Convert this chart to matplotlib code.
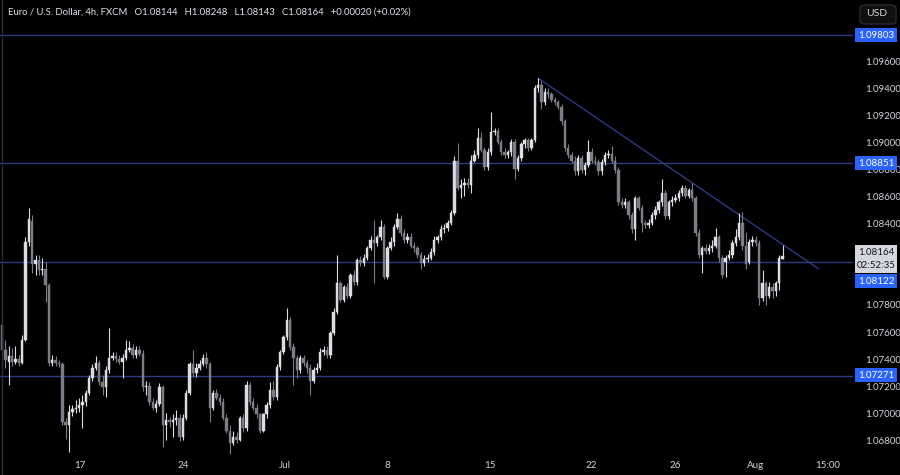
import matplotlib.pyplot as plt
from matplotlib.lines import Line2D
from matplotlib.patches import FancyBboxPatch, Rectangle

# EUR/USD 4h candles
opens = [
    1.0765, 1.0747, 1.0738, 1.0742, 1.0738, 1.0740, 1.0737, 1.0754, 1.0827, 1.0842,
    1.0810, 1.0813, 1.0806, 1.0807, 1.0795, 1.0737, 1.0739, 1.0737, 1.0736, 1.0693,
    1.0691, 1.0701, 1.0703, 1.0704, 1.0706, 1.0708, 1.0715, 1.0726, 1.0733, 1.0737,
    1.0723, 1.0719, 1.0732, 1.0741, 1.0742, 1.0740, 1.0738, 1.0741, 1.0747, 1.0748,
    1.0743, 1.0747, 1.0744, 1.0719, 1.0720, 1.0708, 1.0704, 1.0707, 1.0719, 1.0691,
    1.0695, 1.0693, 1.0695, 1.0696, 1.0682, 1.0696, 1.0715, 1.0736, 1.0730, 1.0733,
    1.0736, 1.0741, 1.0736, 1.0704, 1.0715, 1.0711, 1.0708, 1.0696, 1.0687, 1.0678,
    1.0682, 1.0680, 1.0696, 1.0689, 1.0721, 1.0708, 1.0704, 1.0699, 1.0687, 1.0699,
    1.0706, 1.0717, 1.0712, 1.0734, 1.0745, 1.0756, 1.0769, 1.0749, 1.0741, 1.0732,
    1.0741, 1.0737, 1.0733, 1.0724, 1.0732, 1.0733, 1.0745, 1.0747, 1.0743, 1.0759,
    1.0775, 1.0796, 1.0784, 1.0793, 1.0787, 1.0802, 1.0797, 1.0813, 1.0811, 1.0815,
    1.0822, 1.0828, 1.0826, 1.0830, 1.0838, 1.0801, 1.0822, 1.0827, 1.0838, 1.0844,
    1.0833, 1.0828, 1.0830, 1.0824, 1.0822, 1.0817, 1.0811, 1.0814, 1.0815, 1.0819,
    1.0828, 1.0830, 1.0836, 1.0837, 1.0841, 1.0848, 1.0887, 1.0867, 1.0869, 1.0870,
    1.0869, 1.0887, 1.0891, 1.0904, 1.0895, 1.0882, 1.0893, 1.0908, 1.0909, 1.0901,
    1.0893, 1.0891, 1.0893, 1.0901, 1.0881, 1.0889, 1.0899, 1.0902, 1.0896, 1.0902,
    1.0941, 1.0943, 1.0930, 1.0938, 1.0936, 1.0932, 1.0930, 1.0927, 1.0916, 1.0896,
    1.0891, 1.0887, 1.0879, 1.0889, 1.0880, 1.0884, 1.0893, 1.0887, 1.0886, 1.0879,
    1.0886, 1.0891, 1.0892, 1.0887, 1.0880, 1.0856, 1.0854, 1.0856, 1.0847, 1.0836,
    1.0859, 1.0852, 1.0841, 1.0839, 1.0841, 1.0847, 1.0850, 1.0856, 1.0863, 1.0846,
    1.0856, 1.0858, 1.0859, 1.0863, 1.0867, 1.0861, 1.0865, 1.0859, 1.0833, 1.0817,
    1.0822, 1.0820, 1.0822, 1.0824, 1.0830, 1.0815, 1.0812, 1.0815, 1.0817, 1.0826,
    1.0830, 1.0841, 1.0824, 1.0812, 1.0827, 1.0828, 1.0826, 1.0785, 1.0796, 1.0787,
    1.0793, 1.0790, 1.0796, 1.08144,
]
closes = [
    1.0747, 1.0739, 1.0742, 1.0738, 1.0740, 1.0737, 1.0754, 1.0827, 1.0844, 1.0810,
    1.0813, 1.0806, 1.0807, 1.0795, 1.0737, 1.0739, 1.0737, 1.0736, 1.0693, 1.0691,
    1.0701, 1.0703, 1.0704, 1.0706, 1.0708, 1.0715, 1.0726, 1.0733, 1.0737, 1.0723,
    1.0719, 1.0732, 1.0741, 1.0742, 1.0740, 1.0738, 1.0741, 1.0747, 1.0748, 1.0743,
    1.0747, 1.0744, 1.0719, 1.0720, 1.0708, 1.0704, 1.0707, 1.0719, 1.0691, 1.0695,
    1.0693, 1.0695, 1.0696, 1.0682, 1.0696, 1.0715, 1.0736, 1.0730, 1.0733, 1.0736,
    1.0741, 1.0736, 1.0704, 1.0715, 1.0711, 1.0708, 1.0696, 1.0687, 1.0678, 1.0682,
    1.0680, 1.0696, 1.0689, 1.0721, 1.0708, 1.0704, 1.0699, 1.0687, 1.0699, 1.0706,
    1.0717, 1.0712, 1.0734, 1.0745, 1.0756, 1.0769, 1.0749, 1.0741, 1.0732, 1.0741,
    1.0737, 1.0733, 1.0724, 1.0732, 1.0733, 1.0745, 1.0747, 1.0743, 1.0759, 1.0775,
    1.0796, 1.0784, 1.0793, 1.0787, 1.0802, 1.0797, 1.0813, 1.0811, 1.0815, 1.0822,
    1.0828, 1.0826, 1.0830, 1.0838, 1.0801, 1.0822, 1.0827, 1.0838, 1.0844, 1.0833,
    1.0828, 1.0830, 1.0824, 1.0822, 1.0817, 1.0811, 1.0814, 1.0815, 1.0819, 1.0828,
    1.0830, 1.0836, 1.0837, 1.0841, 1.0848, 1.0887, 1.0867, 1.0869, 1.0870, 1.0869,
    1.0887, 1.0891, 1.0904, 1.0895, 1.0882, 1.0893, 1.0908, 1.0909, 1.0901, 1.0893,
    1.0891, 1.0893, 1.0901, 1.0881, 1.0889, 1.0899, 1.0902, 1.0896, 1.0902, 1.0941,
    1.0943, 1.0930, 1.0938, 1.0936, 1.0932, 1.0930, 1.0927, 1.0916, 1.0896, 1.0891,
    1.0887, 1.0879, 1.0889, 1.0880, 1.0884, 1.0893, 1.0887, 1.0886, 1.0879, 1.0886,
    1.0891, 1.0892, 1.0887, 1.0880, 1.0856, 1.0854, 1.0856, 1.0847, 1.0836, 1.0859,
    1.0852, 1.0841, 1.0839, 1.0841, 1.0847, 1.0850, 1.0856, 1.0863, 1.0846, 1.0856,
    1.0858, 1.0859, 1.0863, 1.0867, 1.0861, 1.0865, 1.0859, 1.0833, 1.0817, 1.0822,
    1.0820, 1.0822, 1.0824, 1.0830, 1.0815, 1.0802, 1.0815, 1.0817, 1.0826, 1.0830,
    1.0841, 1.0824, 1.0810, 1.0827, 1.0828, 1.0826, 1.0785, 1.0796, 1.0787, 1.0793,
    1.0790, 1.0796, 1.0815, 1.08164,
]
highs = [
    1.0770, 1.0754, 1.0750, 1.0748, 1.0750, 1.0743, 1.0758, 1.0830, 1.0852, 1.0847,
    1.0817, 1.0817, 1.0815, 1.0812, 1.0796, 1.0743, 1.0742, 1.0739, 1.0738, 1.0696,
    1.0706, 1.0706, 1.0710, 1.0711, 1.0713, 1.0717, 1.0728, 1.0736, 1.0742, 1.0739,
    1.0728, 1.0735, 1.0763, 1.0745, 1.0745, 1.0743, 1.0744, 1.0754, 1.0753, 1.0751,
    1.0750, 1.0750, 1.0747, 1.0724, 1.0723, 1.0711, 1.0710, 1.0722, 1.0721, 1.0700,
    1.0697, 1.0699, 1.0702, 1.0699, 1.0699, 1.0717, 1.0738, 1.0747, 1.0737, 1.0739,
    1.0744, 1.0745, 1.0738, 1.0717, 1.0718, 1.0714, 1.0711, 1.0699, 1.0691, 1.0687,
    1.0686, 1.0698, 1.0699, 1.0724, 1.0723, 1.0711, 1.0707, 1.0700, 1.0700, 1.0708,
    1.0723, 1.0724, 1.0736, 1.0747, 1.0758, 1.0778, 1.0771, 1.0752, 1.0743, 1.0743,
    1.0743, 1.0739, 1.0736, 1.0734, 1.0737, 1.0748, 1.0750, 1.0750, 1.0761, 1.0778,
    1.0817, 1.0798, 1.0795, 1.0796, 1.0804, 1.0806, 1.0815, 1.0816, 1.0818, 1.0824,
    1.0831, 1.0843, 1.0832, 1.0843, 1.0840, 1.0824, 1.0830, 1.0840, 1.0848, 1.0847,
    1.0836, 1.0833, 1.0833, 1.0827, 1.0824, 1.0819, 1.0817, 1.0818, 1.0822, 1.0831,
    1.0832, 1.0839, 1.0840, 1.0843, 1.0850, 1.0890, 1.0900, 1.0873, 1.0874, 1.0874,
    1.0891, 1.0895, 1.0911, 1.0908, 1.0897, 1.0896, 1.0923, 1.0911, 1.0911, 1.0903,
    1.0896, 1.0895, 1.0903, 1.0903, 1.0891, 1.0901, 1.0904, 1.0904, 1.0904, 1.0943,
    1.0948, 1.0946, 1.0941, 1.0941, 1.0938, 1.0934, 1.0932, 1.0929, 1.0918, 1.0899,
    1.0893, 1.0890, 1.0891, 1.0891, 1.0886, 1.0902, 1.0896, 1.0890, 1.0888, 1.0888,
    1.0893, 1.0895, 1.0898, 1.0890, 1.0882, 1.0859, 1.0859, 1.0858, 1.0849, 1.0861,
    1.0861, 1.0854, 1.0843, 1.0844, 1.0849, 1.0853, 1.0858, 1.0873, 1.0865, 1.0858,
    1.0861, 1.0862, 1.0865, 1.0869, 1.0869, 1.0867, 1.0870, 1.0861, 1.0836, 1.0824,
    1.0825, 1.0825, 1.0828, 1.0837, 1.0832, 1.0817, 1.0817, 1.0821, 1.0828, 1.0836,
    1.0848, 1.0849, 1.0834, 1.0829, 1.0831, 1.0831, 1.0828, 1.0806, 1.0798, 1.0797,
    1.0796, 1.0798, 1.0817, 1.08248,
]
lows = [
    1.0743, 1.0733, 1.0721, 1.0735, 1.0736, 1.0735, 1.0736, 1.0753, 1.0824, 1.0804,
    1.0802, 1.0802, 1.0802, 1.0782, 1.0735, 1.0735, 1.0735, 1.0734, 1.0691, 1.0681,
    1.0671, 1.0698, 1.0700, 1.0701, 1.0689, 1.0705, 1.0713, 1.0724, 1.0732, 1.0721,
    1.0713, 1.0712, 1.0730, 1.0739, 1.0738, 1.0736, 1.0726, 1.0739, 1.0745, 1.0741,
    1.0741, 1.0742, 1.0716, 1.0713, 1.0706, 1.0702, 1.0701, 1.0705, 1.0675, 1.0680,
    1.0690, 1.0682, 1.0691, 1.0679, 1.0680, 1.0695, 1.0713, 1.0727, 1.0727, 1.0732,
    1.0735, 1.0733, 1.0693, 1.0702, 1.0710, 1.0706, 1.0695, 1.0685, 1.0670, 1.0676,
    1.0678, 1.0679, 1.0686, 1.0687, 1.0706, 1.0702, 1.0696, 1.0685, 1.0686, 1.0696,
    1.0704, 1.0710, 1.0710, 1.0732, 1.0744, 1.0754, 1.0747, 1.0721, 1.0726, 1.0730,
    1.0735, 1.0730, 1.0713, 1.0722, 1.0730, 1.0732, 1.0743, 1.0741, 1.0741, 1.0758,
    1.0773, 1.0782, 1.0782, 1.0785, 1.0785, 1.0795, 1.0795, 1.0809, 1.0809, 1.0813,
    1.0821, 1.0796, 1.0824, 1.0828, 1.0799, 1.0799, 1.0821, 1.0824, 1.0836, 1.0831,
    1.0826, 1.0826, 1.0822, 1.0819, 1.0815, 1.0807, 1.0809, 1.0812, 1.0813, 1.0817,
    1.0826, 1.0828, 1.0833, 1.0835, 1.0839, 1.0847, 1.0865, 1.0859, 1.0861, 1.0867,
    1.0863, 1.0886, 1.0889, 1.0893, 1.0880, 1.0880, 1.0891, 1.0906, 1.0899, 1.0891,
    1.0889, 1.0889, 1.0890, 1.0873, 1.0879, 1.0887, 1.0896, 1.0894, 1.0895, 1.0901,
    1.0938, 1.0925, 1.0928, 1.0933, 1.0930, 1.0928, 1.0925, 1.0913, 1.0894, 1.0889,
    1.0885, 1.0876, 1.0876, 1.0878, 1.0876, 1.0882, 1.0885, 1.0884, 1.0876, 1.0876,
    1.0884, 1.0889, 1.0885, 1.0878, 1.0854, 1.0852, 1.0852, 1.0844, 1.0833, 1.0828,
    1.0850, 1.0834, 1.0837, 1.0837, 1.0839, 1.0844, 1.0848, 1.0853, 1.0844, 1.0844,
    1.0853, 1.0856, 1.0857, 1.0861, 1.0859, 1.0859, 1.0857, 1.0831, 1.0815, 1.0804,
    1.0818, 1.0818, 1.0819, 1.0822, 1.0812, 1.0800, 1.0801, 1.0813, 1.0815, 1.0824,
    1.0828, 1.0821, 1.0807, 1.0810, 1.0824, 1.0824, 1.0780, 1.0783, 1.0780, 1.0785,
    1.0785, 1.0787, 1.0791, 1.08143,
]

level_prices = [1.09803, 1.08851, 1.08122, 1.07271]
level_labels = ["1.09803", "1.08851", "1.08122", "1.07271"]
# ticks that stay readable (1.098, 1.082 and 1.080 sit under the label boxes)
price_ticks = [1.068, 1.070, 1.072, 1.074, 1.076, 1.078,
               1.084, 1.086, 1.088, 1.090, 1.092, 1.094, 1.096]
date_tick_pos = [23.3, 54, 84.5, 115, 145.7, 176, 201, 224.8, 246.3]
date_tick_labels = ["17", "24", "Jul", "8", "15", "22", "26", "Aug", "15:00"]
trend_x = [160, 243.6]
trend_y = [1.0948, 1.0807]
last_price = "1.08164"
countdown = "02:52:35"
header = ("Euro / U.S. Dollar, 4h, FXCM   O1.08144   H1.08248   L1.08143   "
          "C1.08164   +0.00020 (+0.02%)")

BG = "#000000"
UP = "#dcdde2"
DOWN = "#7c7d86"
LEVEL = "#2e3a82"
TEXT = "#d1d4dc"
BLUE = "#2962ff"

plt.rcParams["font.family"] = ["Lato", "DejaVu Sans"]

W, H = 900, 475
fig = plt.figure(figsize=(9, 4.75), dpi=100, facecolor=BG)
ax = fig.add_axes([0, 20 / H, 853 / W, 455 / H])
ax.set_facecolor(BG)

# candles
for i, (o, h, l, c) in enumerate(zip(opens, highs, lows, closes)):
    col = UP if c >= o else DOWN
    ax.vlines(i, l, h, color=col, linewidth=0.8, zorder=2)
    body = max(abs(c - o), 0.00004)
    ax.bar(i, body, bottom=min(o, c), width=0.72, color=col,
           edgecolor=col, linewidth=0.3, zorder=3)

# horizontal levels and trendline
for p in level_prices:
    ax.axhline(p, color=LEVEL, linewidth=1.0, zorder=1)
ax.plot(trend_x, trend_y, color=LEVEL, linewidth=1.0, zorder=1)

ax.set_xlim(-0.6, 254.0)
ax.set_ylim(1.06689, 1.10059)

ax.yaxis.tick_right()
ax.set_yticks(price_ticks)
ax.set_yticklabels([f"{t:.5f}" for t in price_ticks])
ax.set_xticks(date_tick_pos)
ax.set_xticklabels(date_tick_labels)
ax.tick_params(axis="both", length=0, colors=TEXT, labelsize=7)
ax.tick_params(axis="y", pad=9)
ax.tick_params(axis="x", pad=4)
for spine in ax.spines.values():
    spine.set_visible(False)


def fy(ypix):
    return 1 - ypix / H


def price_box(ypix, label, face, color, h=14):
    fig.patches.append(Rectangle((855 / W, fy(ypix + h / 2)), 42 / W, h / H,
                                 transform=fig.transFigure, facecolor=face,
                                 edgecolor="none", zorder=5))
    fig.text(876 / W, fy(ypix), label, color=color, fontsize=7,
             ha="center", va="center", zorder=6)


# axis label boxes
level_box_y = [35, 163, 281, 375]
for yp, lab in zip(level_box_y, level_labels):
    price_box(yp, lab, BLUE, "white")

fig.patches.append(Rectangle((855 / W, fy(273)), 42 / W, 28 / H,
                             transform=fig.transFigure, facecolor="#d6d7dc",
                             edgecolor="none", zorder=5))
fig.text(876 / W, fy(252), last_price, color="#131722", fontsize=7,
         ha="center", va="center", zorder=6)
fig.text(876 / W, fy(266), countdown, color="#131722", fontsize=7,
         ha="center", va="center", zorder=6)

# currency button
fig.patches.append(FancyBboxPatch((860 / W, fy(24)), 36 / W, 19 / H,
                                  boxstyle="round,pad=0,rounding_size=0.006",
                                  transform=fig.transFigure, facecolor="#0f0f0f",
                                  edgecolor="#2f323c", linewidth=0.8, zorder=5))
fig.text(877 / W, fy(14), "USD", color=TEXT, fontsize=7.5,
         ha="center", va="center", zorder=6)

# header text
fig.text(8 / W, fy(12), header, color="#e0e3eb", fontsize=6.8,
         ha="left", va="center")

# left frame line
fig.lines.append(Line2D([2 / W, 2 / W], [0, 1], transform=fig.transFigure,
                        color="#2a2e39", linewidth=1.0))

fig.savefig("out.png", dpi=100, facecolor=BG)
